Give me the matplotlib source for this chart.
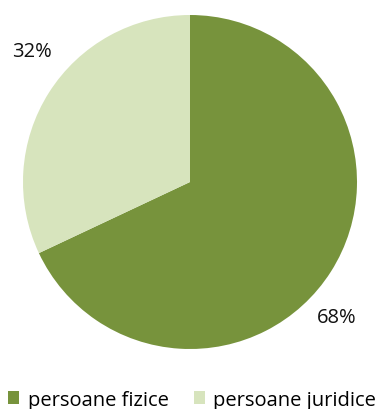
import matplotlib.pyplot as plt
import numpy as np

plt.rcParams['font.family'] = ['Open Sans', 'DejaVu Sans']

labels = ['persoane fizice', 'persoane juridice']
shares = [68, 32]
colors = ['#77933C', '#D7E4BD']

fig = plt.figure(figsize=(3.84, 4.10), dpi=100)
cx, cy, r = 190, 183, 167
ax = fig.add_axes([(cx - r) / 384, (410 - cy - r) / 410, 2 * r / 384, 2 * r / 410])

wedges, texts, pcts = ax.pie(shares, colors=colors, startangle=90, counterclock=False,
                             autopct='%d%%', pctdistance=1.22, radius=1.0,
                             wedgeprops=dict(linewidth=0),
                             textprops=dict(fontsize=14.5, color='#111111'))

# nudge the percentage labels clockwise off the wedge midpoints
for w, t, d, off in zip(wedges, pcts, [1.195, 1.23], [10.2, 7.3]):
    mid = np.deg2rad((w.theta1 + w.theta2) / 2 - off)
    t.set_position((d * np.cos(mid), d * np.sin(mid)))

ax.set_xlim(-1, 1)
ax.set_ylim(-1, 1)
ax.set_aspect('equal')

fig.legend(wedges, labels, loc='lower center', bbox_to_anchor=(0.5, -0.036), ncol=2,
           frameon=False, fontsize=14.5, handlelength=0.55, handleheight=0.55,
           handletextpad=0.4, columnspacing=1.25, borderpad=0.2)

fig.savefig('out.png', dpi=100)
